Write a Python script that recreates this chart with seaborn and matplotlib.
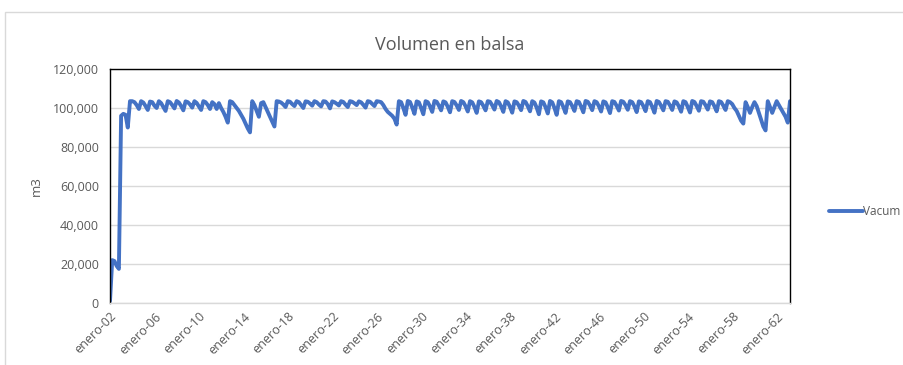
import numpy as np
import pandas as pd
import matplotlib
matplotlib.use("Agg")
import matplotlib.pyplot as plt
from matplotlib.patches import Rectangle
from matplotlib.ticker import FuncFormatter
import seaborn as sns

# Pond volume (m3), sampled every 0.2 day starting on day 2
start_day = 2.0
sample_step_days = 0.2

volume = [
    # filling
    1000, 22000, 21500, 19000, 17500, 96000, 97000, 96500, 90000, 103500,
    # regular pumping cycles
    103500, 103000, 101500, 99500, 103500, 102800, 101000, 99000,
    103300, 103000, 101200, 100000, 103500, 102500, 100500, 98500,
    103500, 103000, 101500, 99800, 103600, 102800, 101000, 98800,
    103400, 103000, 101800, 100200, 103500, 102600, 100800, 99000,
    103500, 103000, 101500, 99500,
    103000, 102000, 99500, 102500, 100000, 98000, 95500, 92500,
    103500, 103000, 101500, 100000, 98500, 96500, 94500, 92000, 89500, 87500,
    103500, 101500, 98500, 95500, 102500, 103000, 100500, 98000, 95500, 93000, 90500,
    103500,
    # steady period
    103300, 102800, 101800, 100500, 103500, 103200, 102000, 101000,
    103500, 103000, 101500, 100000, 103400, 103200, 102300, 101200,
    103500, 103000, 101800, 100800, 103500, 103300, 102000, 99800,
    103400, 103000, 102200, 101300, 103500, 103100, 101700, 100500,
    103500, 103200, 102400, 101500, 103400, 102900, 101600, 100200,
    103500, 103200, 102100, 101000,
    103500, 103300,
    103000, 101500, 99500, 98000, 97000, 96000, 94500, 91500,
    # daily cycles
    103500, 103000, 100000, 96500, 103600, 103100, 100300, 97000,
    103400, 102900, 100000, 96800, 103500, 103000, 100800, 98000,
    103600, 103200, 101200, 98800, 103400, 102900, 100600, 97800,
    103500, 103100, 101300, 99000, 103600, 103000, 100900, 98200,
    103500, 102900, 100500, 97500, 103400, 103000, 101100, 98800,
    103500, 103200, 101400, 99200, 103600, 103000, 100800, 98000,
    103500, 102900, 100600, 97600, 103400, 103000, 101200, 98900,
    103600, 103100, 100900, 98300, 103500, 102800, 100200, 96800,
    103400, 102900, 100400, 97200, 103600, 102900, 100000, 96500,
    103500, 103000, 100500, 97500, 103400, 103000, 101000, 98500,
    103500, 103100, 100700, 97800, 103600, 103200, 101300, 98900,
    103500, 103000, 100900, 98200, 103400, 102900, 100400, 97400,
    103500, 103100, 101100, 98700, 103600, 103200, 101400, 99100,
    103500, 103000, 100800, 97900, 103400, 103000, 101000, 98400,
    103500, 103000, 100600, 97600, 103600, 103100, 101100, 98800,
    103500, 103200, 101300, 99000, 103400, 102900, 100800, 98100,
    103500, 103000, 100500, 97700, 103600, 103100, 101000, 98600,
    103500, 103200, 101400, 99200, 103400, 103000, 100900, 98300,
    103500, 103100, 101200, 99000,
    # final irregular cycles
    103500, 103000, 102000, 100000, 98500, 96000, 93500, 92000,
    103000, 100500, 97500, 100500, 103000, 101000, 97500, 94000, 90500, 88500,
    103500, 100500, 97500, 100500, 103500, 101500, 99500, 97500, 95500, 92500,
    103500,
]

tick_days = [2, 6, 10, 14, 18, 22, 26, 30, 34, 38, 42, 46, 50, 54, 58, 62]
tick_labels = ["enero-02", "enero-06", "enero-10", "enero-14", "enero-18",
               "enero-22", "enero-26", "enero-30", "enero-34", "enero-38",
               "enero-42", "enero-46", "enero-50", "enero-54", "enero-58",
               "enero-62"]
y_ticks = [0, 20000, 40000, 60000, 80000, 100000, 120000]

day = start_day + sample_step_days * np.arange(len(volume))
df = pd.DataFrame({"dia": day, "Vacum": volume})

sns.set_style("white")
plt.rcParams["font.family"] = ["Open Sans", "DejaVu Sans"]

text_grey = "#595959"
fig = plt.figure(figsize=(9.04, 3.65), dpi=100)
ax = fig.add_axes([110 / 904, 1 - 303 / 365, 680 / 904, 234 / 365])

# chart area frame
fig.patches.append(Rectangle((5 / 904, -0.1), 1.2, 1.1 - 12 / 365,
                             transform=fig.transFigure, fill=False,
                             edgecolor="#d9d9d9", linewidth=1.0, zorder=0))

sns.lineplot(data=df, x="dia", y="Vacum", ax=ax, color="#4472C4",
             linewidth=2.8, label="Vacum", legend=False)

ax.set_xlim(start_day, day[-1])
ax.set_ylim(0, 120000)
ax.set_yticks(y_ticks)
ax.yaxis.set_major_formatter(FuncFormatter(lambda v, p: f"{v:,.0f}"))
ax.set_xticks(tick_days)
ax.set_xticklabels(tick_labels, rotation=45, ha="right",
                   rotation_mode="anchor")
ax.tick_params(axis="both", length=0, labelsize=9, colors=text_grey, pad=8)
ax.tick_params(axis="x", pad=5)
ax.grid(axis="y", color="#d9d9d9", linewidth=1.0)
ax.set_axisbelow(True)

for side in ("left", "top", "right"):
    ax.spines[side].set_color("black")
    ax.spines[side].set_linewidth(1.0)
ax.spines["bottom"].set_color("#d9d9d9")
ax.spines["bottom"].set_linewidth(1.0)

ax.set_xlabel("")
ax.set_ylabel("m3", fontsize=9.5, color=text_grey, labelpad=7)
ax.set_title("Volumen en balsa", fontsize=13, color=text_grey, pad=14)

handles, labels = ax.get_legend_handles_labels()
fig.legend(handles, labels, loc="center left",
           bbox_to_anchor=(818 / 904, 1 - 212 / 365), frameon=False,
           fontsize=8.5, handlelength=2.9, handletextpad=0.05,
           labelcolor=text_grey)

fig.savefig("out.png", dpi=100)
